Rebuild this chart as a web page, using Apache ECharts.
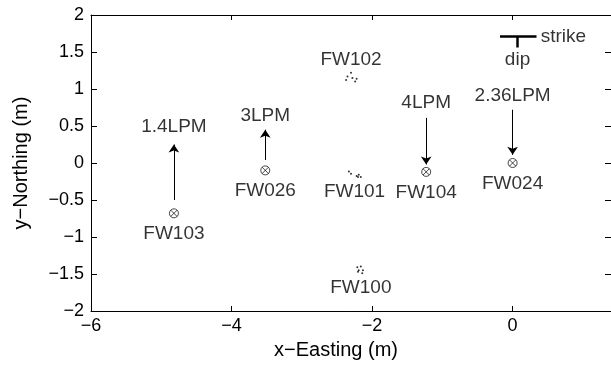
<!DOCTYPE html>
<html><head><meta charset="utf-8">
<script src="https://cdn.jsdelivr.net/npm/echarts@6/dist/echarts.min.js"></script>
<style>html,body{margin:0;padding:0;background:#fff}#c{width:611px;height:372px}</style>
</head><body><div id="c"></div>
<script>
// wells with flow
const wellNames = ['FW103', 'FW026', 'FW104', 'FW024'];
const wellX = [-4.82, -3.52, -1.23, 0];
const wellY = [-0.68, -0.10, -0.12, 0];
const flowLabels = ['1.4LPM', '3LPM', '4LPM', '2.36LPM'];
const flowLabelY = [0.49, 0.64, 0.82, 0.91];
const arrowFromY = [-0.50, 0.04, 0.61, 0.72];
const arrowToY = [0.25, 0.45, -0.02, 0.11];
// dot clusters
const fw102X = [-2.30, -2.35, -2.37, -2.28, -2.24, -2.22];
const fw102Y = [1.22, 1.17, 1.12, 1.15, 1.10, 1.14];
const fw101X = [-2.33, -2.30, -2.22, -2.19, -2.16, -2.20];
const fw101Y = [-0.115, -0.146, -0.174, -0.16, -0.19, -0.19];
const fw100X = [-2.21, -2.16, -2.19, -2.13, -2.20, -2.14];
const fw100Y = [-1.41, -1.40, -1.45, -1.45, -1.47, -1.49];
const clusterNames = ['FW102', 'FW101', 'FW100'];
const clusterLabelX = [-2.30, -2.25, -2.16];
const clusterLabelY = [1.40, -0.39, -1.68];
// strike/dip symbol
const strikeBarX = [-0.18, 0.34];
const strikeY = 1.71;
const dipX = 0.07;
const dipEndY = 1.56;
const strikeText = 'strike', dipText = 'dip';
const strikeTextX = 0.40, dipTextY = 1.39;
// axes
const xMin = -6, xMax = 1.4, xStep = 2;
const yMin = -2, yMax = 2, yStep = 0.5;
const xName = 'x\u2212Easting (m)', yName = 'y\u2212Northing (m)';

const FONT = 'Liberation Sans, Arial, Helvetica, sans-serif';
const fmt = v => String(v).replace('-', '\u2212');
const crossPath = 'path://M0,-5A5,5 0 1,1 0,5A5,5 0 1,1 0,-5ZM-3.5,-3.5L3.5,3.5M3.5,-3.5L-3.5,3.5';

const txt = (size) => ({ color: '#000', fontFamily: FONT, fontSize: size });

const chart = echarts.init(document.getElementById('c'));
const zip = (xs, ys) => xs.map((x, i) => [x, ys[i]]);
const axLine = { show: true, onZero: false, lineStyle: { color: '#000', width: 1 } };

chart.setOption({
  backgroundColor: '#fff',
  animation: false,
  grid: { left: 91, top: 15, bottom: 61, width: 523 },
  xAxis: [{
    type: 'value', min: xMin, max: xMax, interval: xStep, position: 'bottom',
    name: xName, nameLocation: 'middle', nameGap: 29,
    nameTextStyle: Object.assign(txt(20), { padding: [0, 30, 0, 0] }),
    axisLine: axLine,
    axisTick: { show: true, inside: true, length: 5, lineStyle: { color: '#000' } },
    axisLabel: Object.assign(txt(18), { formatter: fmt, margin: 6, showMaxLabel: false }),
    splitLine: { show: false }
  }, {
    type: 'value', min: xMin, max: xMax, interval: xStep, position: 'top',
    axisLine: axLine,
    axisTick: { show: true, inside: true, length: 5, lineStyle: { color: '#000' } },
    axisLabel: { show: false }, splitLine: { show: false }
  }],
  yAxis: [{
    type: 'value', min: yMin, max: yMax, interval: yStep, position: 'left',
    name: yName, nameLocation: 'middle', nameGap: 60, nameTextStyle: txt(20),
    axisLine: axLine,
    axisTick: { show: true, inside: true, length: 6, lineStyle: { color: '#000' } },
    axisLabel: Object.assign(txt(18), { formatter: fmt, margin: 7 }),
    splitLine: { show: false }
  }, {
    type: 'value', min: yMin, max: yMax, interval: yStep, position: 'right',
    axisLine: axLine,
    axisTick: { show: true, inside: true, length: 6, lineStyle: { color: '#000' } },
    axisLabel: { show: false }, splitLine: { show: false }
  }],
  series: [
    { // well markers
      type: 'scatter', symbol: crossPath, symbolSize: 9,
      itemStyle: { color: 'none', borderColor: '#000', borderWidth: 0.9 },
      data: wellNames.map((n, i) => ({ name: n, value: [wellX[i], wellY[i]] })),
      label: Object.assign(txt(19), { show: true, position: 'bottom', distance: 4, formatter: p => p.name })
    },
    { // flow labels
      type: 'scatter', symbolSize: 0, silent: true,
      data: flowLabels.map((n, i) => ({ name: n, value: [wellX[i], flowLabelY[i]] })),
      label: Object.assign(txt(19), { show: true, position: 'inside', formatter: p => p.name })
    },
    { // flow arrows
      type: 'lines', coordinateSystem: 'cartesian2d', silent: true,
      symbol: ['none', 'arrow'], symbolSize: [0, 8],
      lineStyle: { color: '#000', width: 1, opacity: 1 },
      data: wellX.map((x, i) => ({ coords: [[x, arrowFromY[i]], [x, arrowToY[i]]] }))
    },
    { type: 'scatter', symbol: 'circle', symbolSize: 2, itemStyle: { color: '#000' }, data: zip(fw102X, fw102Y) },
    { type: 'scatter', symbol: 'circle', symbolSize: 2, itemStyle: { color: '#000' }, data: zip(fw101X, fw101Y) },
    { type: 'scatter', symbol: 'circle', symbolSize: 2, itemStyle: { color: '#000' }, data: zip(fw100X, fw100Y) },
    { // cluster labels
      type: 'scatter', symbolSize: 0, silent: true,
      data: clusterNames.map((n, i) => ({ name: n, value: [clusterLabelX[i], clusterLabelY[i]] })),
      label: Object.assign(txt(19), { show: true, position: 'inside', formatter: p => p.name })
    },
    { // strike / dip glyph
      type: 'lines', coordinateSystem: 'cartesian2d', silent: true, symbol: 'none',
      lineStyle: { color: '#000', width: 2.5, opacity: 1 },
      data: [
        { coords: [[strikeBarX[0], strikeY], [strikeBarX[1], strikeY]] },
        { coords: [[dipX, strikeY], [dipX, dipEndY]] }
      ]
    },
    {
      type: 'scatter', symbolSize: 0, silent: true,
      data: [
        { name: strikeText, value: [strikeTextX, strikeY], label: { position: 'right', distance: 0 } },
        { name: dipText, value: [dipX, dipTextY], label: { position: 'inside' } }
      ],
      label: Object.assign(txt(19), { show: true, formatter: p => p.name })
    }
  ]
});
</script></body></html>
